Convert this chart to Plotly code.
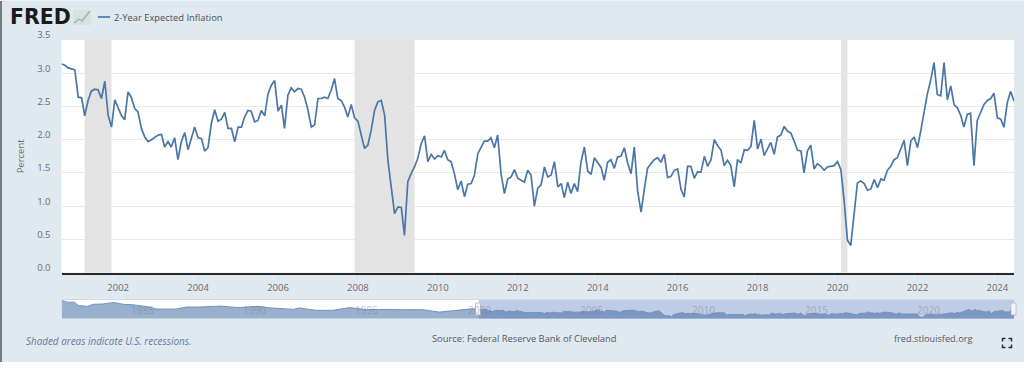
import pandas as pd
import plotly.graph_objects as go

W, H = 1024, 369

start_month = "2000-08-01"
inflation = [
 3.14,3.12,3.08,3.06,3.05,2.64,2.63,2.36,2.59,2.73,2.76,2.75,2.62,2.88,2.37,2.19,2.60,2.48,2.36,2.30,
 2.72,2.64,2.47,2.42,2.17,2.04,1.97,2.00,2.04,2.07,2.08,1.89,1.97,1.89,2.03,1.70,1.97,2.11,1.85,2.02,
 2.19,2.03,2.02,1.83,1.88,2.24,2.45,2.28,2.31,2.41,2.17,2.17,1.97,2.19,2.19,2.34,2.44,2.43,2.27,2.29,
 2.44,2.36,2.69,2.82,2.89,2.43,2.52,2.17,2.67,2.78,2.72,2.77,2.76,2.64,2.45,2.19,2.22,2.62,2.62,2.64,
 2.62,2.74,2.92,2.62,2.59,2.49,2.34,2.53,2.33,2.28,2.09,1.87,1.92,2.14,2.44,2.57,2.59,2.37,1.69,1.29,
 0.89,0.99,0.98,0.56,1.37,1.49,1.59,1.72,1.94,2.06,1.67,1.78,1.71,1.76,1.74,1.84,1.70,1.67,1.49,1.25,
 1.38,1.14,1.33,1.34,1.47,1.79,1.88,1.98,1.98,2.03,1.88,2.07,1.49,1.19,1.41,1.44,1.55,1.42,1.39,1.36,
 1.54,1.47,1.00,1.27,1.32,1.59,1.44,1.47,1.67,1.29,1.34,1.13,1.36,1.19,1.34,1.22,1.67,1.89,1.53,1.48,
 1.73,1.65,1.58,1.39,1.66,1.70,1.57,1.74,1.75,1.88,1.65,1.49,1.89,1.22,0.91,1.24,1.57,1.64,1.70,1.73,
 1.66,1.78,1.43,1.45,1.54,1.56,1.25,1.14,1.60,1.60,1.42,1.52,1.51,1.75,1.60,1.70,2.00,1.91,1.84,1.61,
 1.69,1.61,1.29,1.70,1.65,1.85,1.84,1.90,2.29,1.86,2.01,1.76,1.85,1.96,1.78,2.04,2.07,2.20,2.13,2.10,
 1.98,1.84,1.83,1.50,1.83,1.92,1.56,1.64,1.60,1.54,1.59,1.60,1.61,1.67,1.55,1.09,0.49,0.41,0.84,1.35,
 1.38,1.34,1.24,1.26,1.40,1.28,1.41,1.39,1.54,1.60,1.70,1.73,1.86,1.99,1.61,1.98,2.04,1.88,2.14,2.41,
 2.69,2.89,3.16,2.68,2.66,3.16,2.60,2.81,2.53,2.48,2.36,2.19,2.38,2.40,1.61,2.29,2.40,2.53,2.59,2.62,
 2.70,2.33,2.31,2.19,2.56,2.73,2.58,
]
dates = pd.date_range(start_month, periods=len(inflation), freq="MS")

recession_start = ["2001-03-01", "2007-12-01", "2020-02-01"]
recession_end = ["2001-11-01", "2009-06-01", "2020-04-01"]

overview_dates = [
 "1982-01","1982-04","1982-08","1982-10","1983-03","1983-06","1983-11","1984-05","1984-10","1985-04",
 "1985-11","1986-04","1987-02","1987-08","1988-03","1989-02","1989-11","1990-10","1991-05","1992-01",
 "1992-05","1992-08","1993-05","1994-02","1994-11","1995-08","1996-03","1997-02","1998-02","1998-11",
 "1999-08","2000-04",
]
overview_values = [
 6.1,5.5,5.5,4.4,4.1,4.8,4.9,5.4,4.8,4.6,4.0,3.2,3.2,3.9,3.9,4.2,3.7,4.1,3.6,3.1,
 3.1,3.6,2.8,2.8,3.7,3.0,3.1,3.0,3.0,2.2,2.8,3.3,
]
overview_labels = ["1985", "1990", "1995", "2000", "2005", "2010", "2015", "2020"]

BODY = "#e1e9f0"
LINE = "#4a76a8"
GREY = "#666b73"
FONT = "Open Sans"

px = lambda x: x / W
py = lambda y: 1 - y / H

fig = go.Figure()
fig.add_trace(go.Scatter(x=dates, y=inflation, mode="lines", name="2-Year Expected Inflation",
                         line=dict(color=LINE, width=1.7), showlegend=False, hoverinfo="skip"))
fig.add_trace(go.Scatter(
    x=pd.concat([pd.to_datetime(pd.Series(overview_dates)), pd.Series(dates)]),
    y=overview_values + inflation, xaxis="x2", yaxis="y2", mode="lines", fill="tozeroy",
    fillcolor="rgba(70,110,165,0.55)", line=dict(color="#7393bc", width=1), showlegend=False, hoverinfo="skip"))

shapes = [
    dict(type="rect", xref="paper", yref="paper", x0=0, x1=1, y0=0, y1=py(362), fillcolor="white", line_width=0, layer="below"),
    dict(type="rect", xref="paper", yref="paper", x0=0, x1=px(2), y0=py(362), y1=1, fillcolor="#77797c", line_width=0, layer="below"),
    dict(type="rect", xref="paper", yref="paper", x0=0, x1=1, y0=py(1), y1=1, fillcolor="#f1f2f3", line_width=0, layer="below"),
    # logo sparkline
    dict(type="rect", xref="paper", yref="paper", x0=px(73), x1=px(91), y0=py(25), y1=py(10), fillcolor="#d8e1e0", line_width=0),
    dict(type="path", xref="paper", yref="paper", line=dict(color="#9cb8a2", width=1.4),
         path=f"M {px(74)} {py(23)} L {px(79)} {py(19)} L {px(82)} {py(21)} L {px(90)} {py(11)}"),
    # legend key
    dict(type="line", xref="paper", yref="paper", x0=px(98), x1=px(110), y0=py(17), y1=py(17), line=dict(color=LINE, width=1.7)),
    # overview top rule
    dict(type="line", xref="paper", yref="paper", x0=px(61.5), x1=px(1014), y0=py(299.5), y1=py(299.5), line=dict(color="#d3dbe3", width=1)),
    # overview selection
    dict(type="rect", xref="x2", yref="paper", x0=dates[0], x1=dates[-1], y0=py(318.7), y1=py(299.5),
         fillcolor="rgba(105,130,195,0.42)", line_width=0, layer="below"),
]
for s, e in zip(recession_start, recession_end):
    shapes.append(dict(type="rect", xref="x", yref="y", x0=s, x1=e, y0=0, y1=3.5, fillcolor="#e3e3e3", line_width=0, layer="between"))
# selection handles
for hx in (478, 1013.5):
    shapes.append(dict(type="rect", xref="paper", yref="paper", x0=px(hx - 2.5), x1=px(hx + 2.5), y0=py(315), y1=py(303),
                       fillcolor="#f4f6f9", line=dict(color="#a8b0bc", width=0.7)))
# full-screen icon
for cx, cy, dx, dy in [(1002.5, 338.5, 1, 1), (1011.5, 338.5, -1, 1), (1002.5, 347.5, 1, -1), (1011.5, 347.5, -1, -1)]:
    shapes.append(dict(type="path", xref="paper", yref="paper", line=dict(color="#2a2d33", width=1.5),
                       path=f"M {px(cx)} {py(cy + 3 * dy)} L {px(cx)} {py(cy)} L {px(cx + 3 * dx)} {py(cy)}"))

annotations = [
    dict(text="<b>FRED</b>", x=px(8.5), y=py(17.5), font=dict(family="DejaVu Sans", size=20.5, color="#1c1b1c"), xanchor="left"),
    dict(text="2-Year Expected Inflation", x=px(113), y=py(17), font=dict(family=FONT, size=9.35, color="#4a4f55"), xanchor="left"),
    dict(text="<i>Shaded areas indicate U.S. recessions.</i>", x=px(25), y=py(341), font=dict(family=FONT, size=9.9, color="#66789f"), xanchor="left"),
    dict(text="Source: Federal Reserve Bank of Cleveland", x=px(431), y=py(338), font=dict(family=FONT, size=9.35, color="#53585f"), xanchor="left"),
    dict(text="fred.stlouisfed.org", x=px(893), y=py(338), font=dict(family=FONT, size=9.2, color="#53585f"), xanchor="left"),
]
for a in annotations:
    a.update(xref="paper", yref="paper", showarrow=False, yanchor="middle", borderpad=0)
for label in overview_labels:
    annotations.append(dict(text=label, x=f"{label}-01-01", xref="x2", y=py(310), yref="paper", showarrow=False,
                            xanchor="left", yanchor="middle", font=dict(family=FONT, size=10, color="rgba(110,120,135,0.45)")))

fig.update_layout(
    width=W, height=H, autosize=False, margin=dict(l=0, r=0, t=0, b=0, pad=0, autoexpand=False),
    paper_bgcolor=BODY, plot_bgcolor="white", shapes=shapes, annotations=annotations,
    font=dict(family=FONT, color=GREY, size=9.5),
    xaxis=dict(domain=[px(61.5), px(1014)], range=[dates[0], dates[-1]], anchor="y", type="date", automargin=False,
               dtick="M24", tick0="2002-01-01", tickformat="%Y", showgrid=False, zeroline=False,
               showline=True, linecolor="#26282b", linewidth=2, ticks="outside", ticklen=5, tickcolor="#d4deea",
               tickfont=dict(size=9.5, color=GREY)),
    yaxis=dict(domain=[1 - 272.7 / H, 1 - 40 / H], range=[0, 3.5], anchor="x", tick0=0, dtick=0.5, tickformat=".1f", automargin=False,
               showgrid=True, gridcolor="#e9e9e9", gridwidth=1, zeroline=False, showline=False,
               ticks="", ticklabelstandoff=10, ticklabelshift=-5,
               tickfont=dict(size=9.5, color=GREY),
               title=dict(text="Percent", font=dict(size=9.5, color=GREY), standoff=10)),
    xaxis2=dict(domain=[px(61.5), px(1014)], range=["1982-01-01", dates[-1]], anchor="y2", type="date",
                visible=False, automargin=False),
    yaxis2=dict(domain=[1 - 318.7 / H, 1 - 299.5 / H], range=[0, 6.4], anchor="x2", visible=False, automargin=False),
)

fig.write_html("out.html", config=dict(displayModeBar=False),
               post_script="document.body.style.margin='0';document.body.style.overflow='hidden';")
